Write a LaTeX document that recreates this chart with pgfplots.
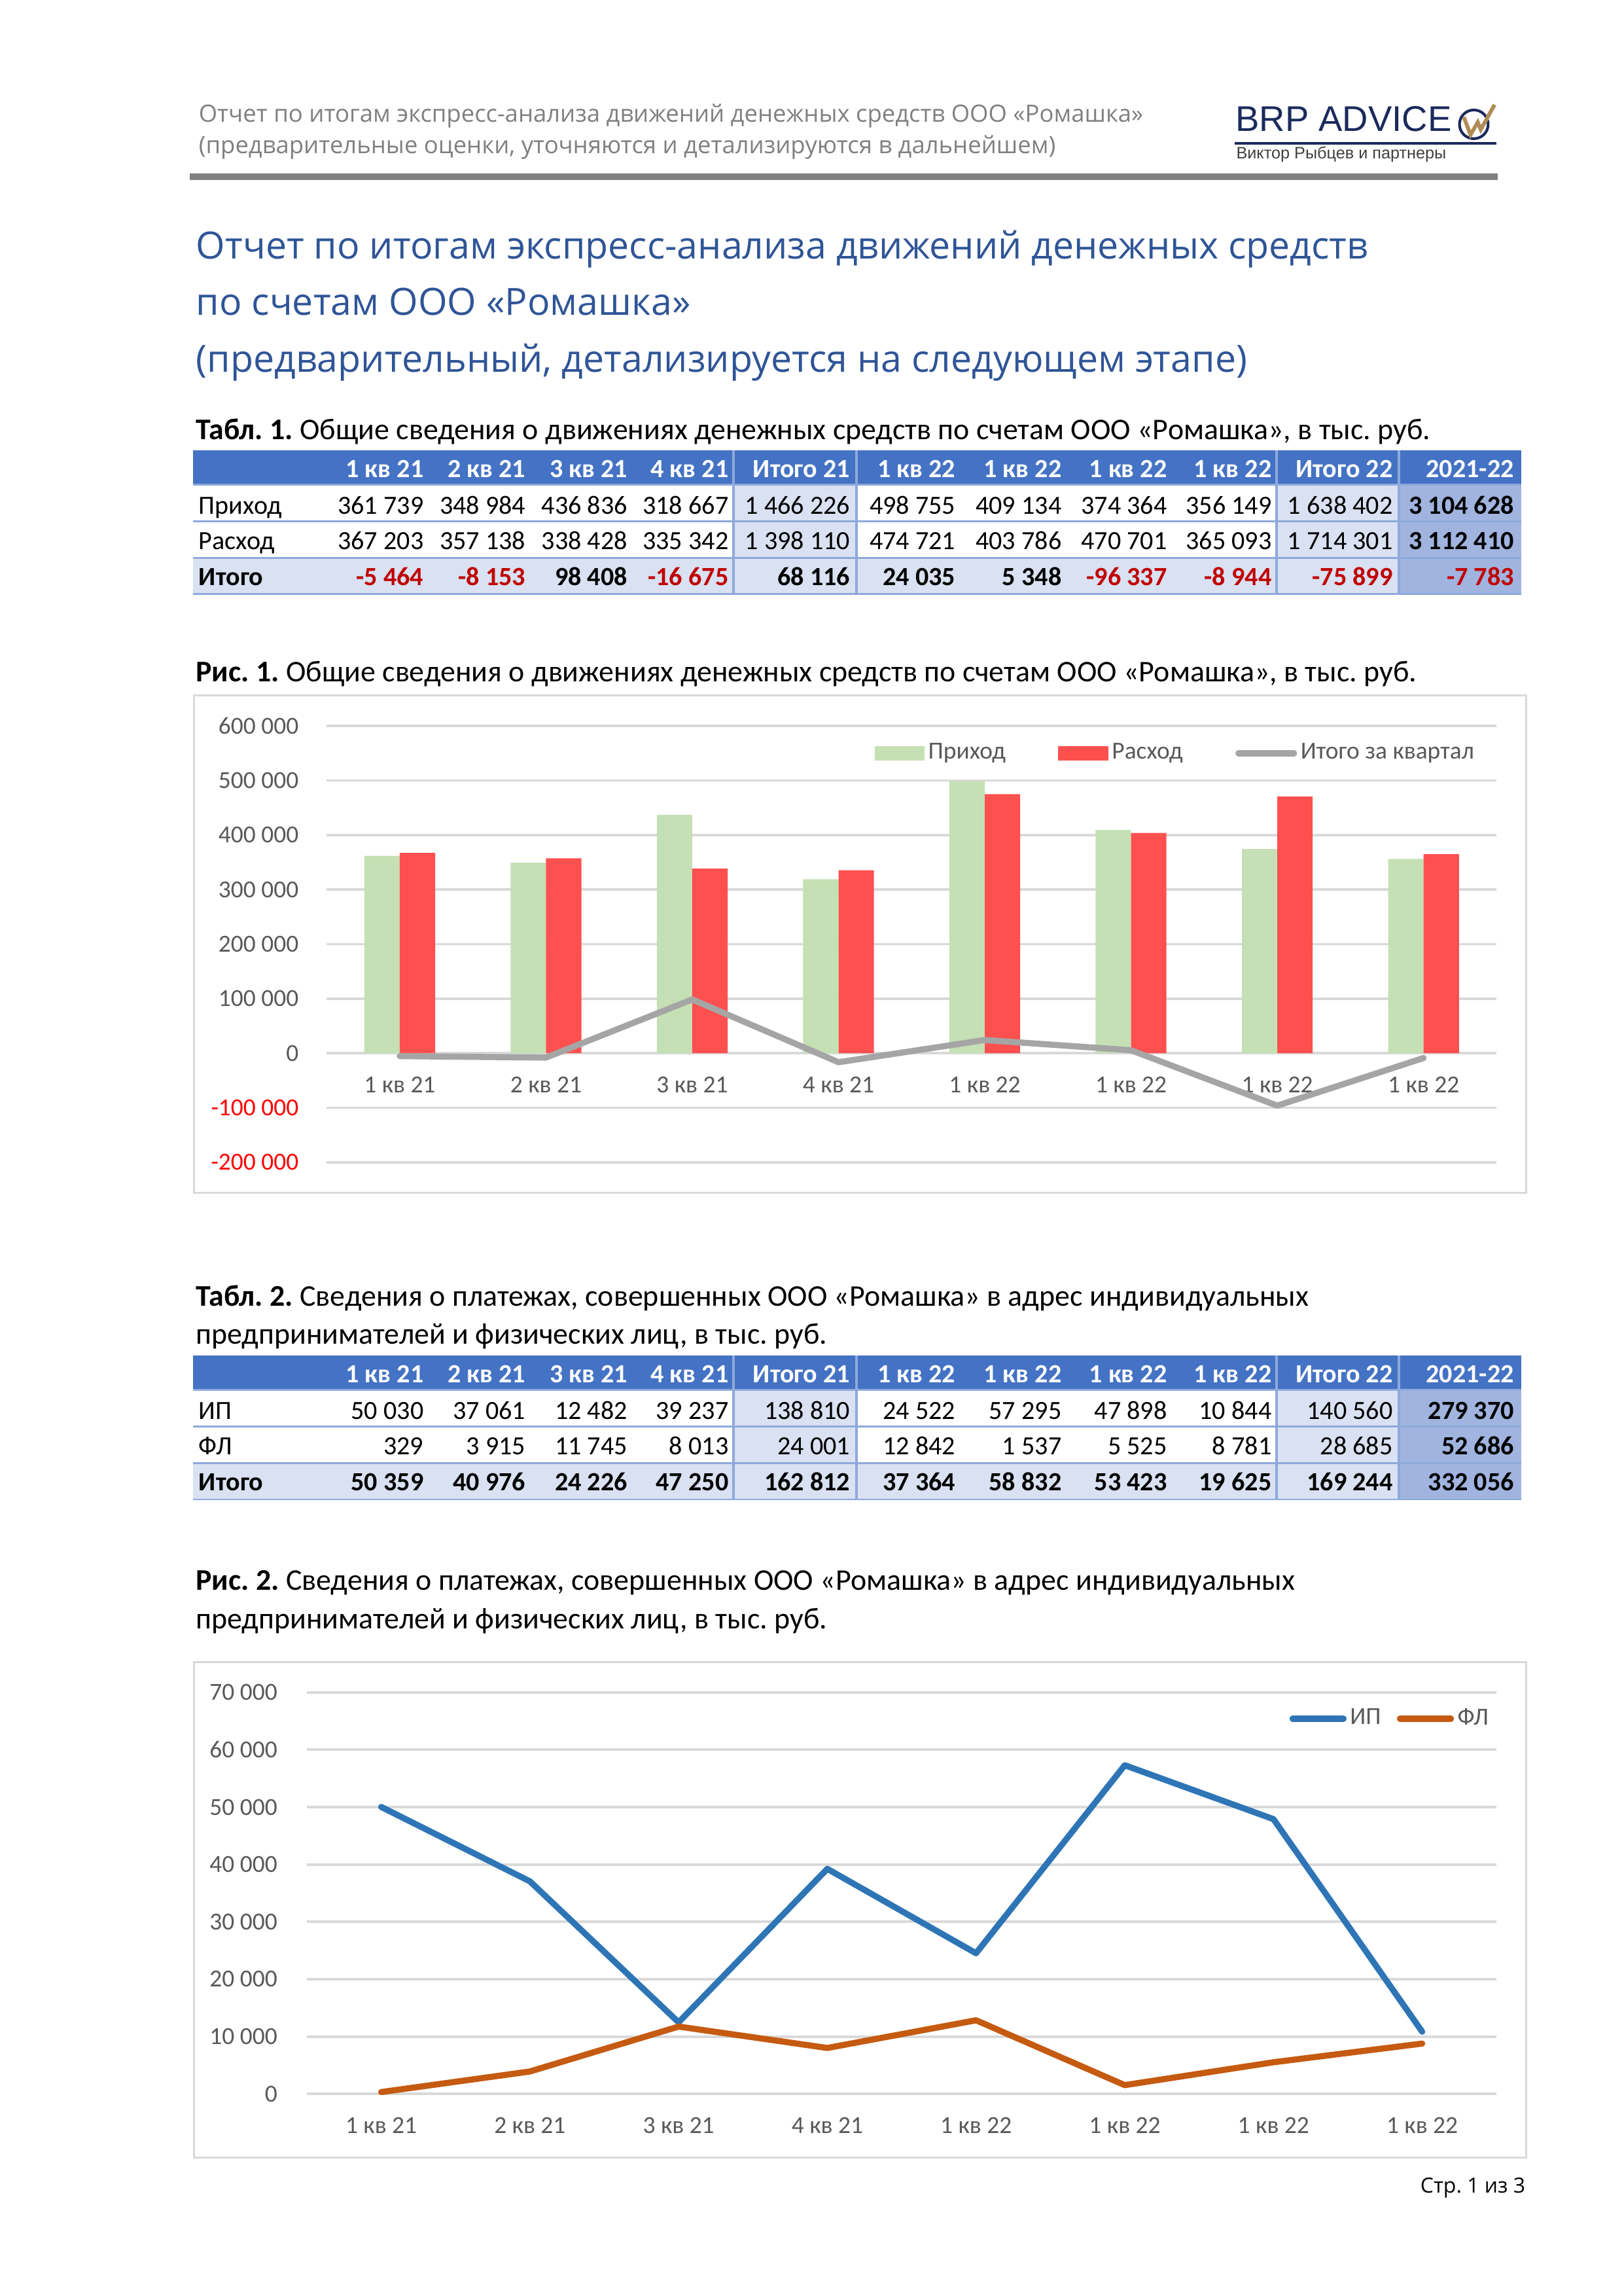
\documentclass[border=0pt]{standalone}
\usepackage{fontspec}
\setmainfont{Carlito}
\newfontfamily\osans{Open Sans}
\newfontfamily\lsans{Liberation Sans}
\usepackage{pgfplots}
\pgfplotsset{compat=1.18}
\frenchspacing

\definecolor{hdrgray}{HTML}{808080}
\definecolor{titblue}{HTML}{2F5597}
\definecolor{navy}{HTML}{1B2A5C}
\definecolor{gold}{HTML}{B08D57}
\definecolor{subgray}{HTML}{404040}
\definecolor{rulegray}{HTML}{808080}
\definecolor{hdrblue}{HTML}{4472C4}
\definecolor{lightblue}{HTML}{D9E1F2}
\definecolor{darkcol}{HTML}{A0B4DF}
\definecolor{sepblue}{HTML}{8EA9DB}
\definecolor{negred}{HTML}{C00000}
\definecolor{gridgray}{HTML}{D9D9D9}
\definecolor{labgray}{HTML}{595959}
\definecolor{incgreen}{HTML}{C5E0B4}
\definecolor{expred}{HTML}{FF5050}
\definecolor{netgray}{HTML}{A5A5A5}
\definecolor{ipblue}{HTML}{2E75B6}
\definecolor{florange}{HTML}{C55A11}
\definecolor{tickred}{HTML}{FF0000}

\newlength\tmpw
\newcommand\calcsize[4]{%
  \settowidth\tmpw{#2\fontsize{10}{12}\selectfont #3}%
  \pgfmathsetmacro#1{10*#4*0.53878/\tmpw}%
}
\newcommand\hdrfont{\osans\fontsize{\hdrsize}{\hdrsize}\selectfont}
\newcommand\titfont{\osans\fontsize{\titsize}{\titsize}\selectfont}
\newcommand\capfont{\rmfamily\fontsize{\capsize}{\capsize}\selectfont}
\newcommand\tabfont{\rmfamily\fontsize{\tabsize}{\tabsize}\selectfont}
\newcommand\chfont{\rmfamily\fontsize{\chsize}{\chsize}\selectfont}
\newcommand\footfont{\osans\fontsize{\footsize}{\footsize}\selectfont}
\newcommand\logofont{\lsans\fontsize{\logosize}{\logosize}\selectfont}
\newcommand\subfont{\lsans\fontsize{\subsize}{\subsize}\selectfont}
\newcommand\R[1]{\textcolor{negred}{#1}}

% table grid, #1 = top y
\newcommand\tgrid[1]{%
  \fill[hdrblue] (132,#1) rectangle (1039,{#1+23.4});
  \fill[lightblue] (501,{#1+23.4}) rectangle (585,{#1+73.4});
  \fill[lightblue] (872,{#1+23.4}) rectangle (955.5,{#1+73.4});
  \fill[lightblue] (132,{#1+73.4}) rectangle (955.5,{#1+98.1});
  \fill[darkcol] (955.5,{#1+23.4}) rectangle (1039,{#1+98.1});
  \foreach \dy in {23.4,48.4,73.4,98.1} {\draw[sepblue, line width=0.6pt] (132,{#1+\dy}) -- (1039,{#1+\dy});}
  \foreach \xx in {501,585,872,955.5} {\draw[sepblue, line width=0.9pt] (\xx,#1) -- (\xx,{#1+98.1});}
}
% table row: #1 baseline, #2 style, #3 label, #4 values
\newcommand\trow[4]{%
  \node[anchor=base west, inner sep=0pt, font=\tabfont] at (135.5,#1) {#2\relax #3};
  \foreach \v [count=\i from 0] in {#4} {%
    \pgfmathsetmacro\xr{{289.7,359.4,429,498,581,653,725.5,797.5,869,951.7,1034.6}[\i]}%
    \node[anchor=base east, inner sep=0pt, font=\tabfont] at (\xr,#1) {#2\relax\v};
  }%
}

\begin{document}%
\calcsize\hdrsize{\osans}{Отчет по итогам экспресс-анализа движений денежных средств ООО «Ромашка»}{645.2}%
\calcsize\titsize{\osans}{Отчет по итогам экспресс-анализа движений денежных средств}{800.5}%
\calcsize\capsize{\rmfamily}{\textbf{Табл. 1.} Общие сведения о движениях денежных средств по счетам ООО «Ромашка», в тыс. руб.}{843.3}%
\calcsize\tabsize{\rmfamily}{1 466 226}{71.7}%
\calcsize\chsize{\rmfamily}{Итого за квартал}{118.5}%
\calcsize\footsize{\osans}{Стр. 1 из 3}{71.6}%
\calcsize\logosize{\lsans}{BRP ADVICE}{147.5}%
\calcsize\subsize{\lsans}{Виктор Рыбцев и партнеры}{143.4}%
\begin{tikzpicture}
\begin{scope}[x=0.18936mm,y=-0.18936mm]
\fill[white] (0,0) rectangle (1109,1568);
% ---- page header
\node[anchor=base west, inner sep=0pt, text=hdrgray, font=\hdrfont] at (135.4,83.3) {Отчет по итогам экспресс-анализа движений денежных средств ООО «Ромашка»};
\node[anchor=base west, inner sep=0pt, text=hdrgray, font=\hdrfont] at (135.4,104.6) {(предварительные оценки, уточняются и детализируются в дальнейшем)};
\node[anchor=base west, inner sep=0pt, text=navy, font=\logofont] at (843.7,89.4) {BRP ADVICE};
\fill[navy] (843.6,96.9) rectangle (1022.3,98.6);
\node[anchor=base west, inner sep=0pt, text=subgray, font=\subfont] at (844.2,108.5) {Виктор Рыбцев и партнеры};
\draw[navy, line width=0.35mm] (1006.8,84.9) circle [radius=9.8];
\draw[gold, line width=0.5mm, line join=miter] (1000,80) -- (1004.5,92) -- (1009.5,83.5) -- (1011.5,88.5) -- (1021,71.5);
\fill[rulegray] (129.6,118.5) rectangle (1023,123);
% ---- title
\node[anchor=base west, inner sep=0pt, text=titblue, font=\titfont] at (133.7,176.6) {Отчет по итогам экспресс-анализа движений денежных средств};
\node[anchor=base west, inner sep=0pt, text=titblue, font=\titfont] at (133.7,215.3) {по счетам ООО «Ромашка»};
\node[anchor=base west, inner sep=0pt, text=titblue, font=\titfont] at (133.7,254) {(предварительный, детализируется на следующем этапе)};
% ---- table 1
\node[anchor=base west, inner sep=0pt, font=\capfont] at (133.5,300.2) {\textbf{Табл. 1.} Общие сведения о движениях денежных средств по счетам ООО «Ромашка», в тыс. руб.};
\tgrid{307.6}
\trow{325.9}{\bfseries\color{white}}{}{1 кв 21, 2 кв 21, 3 кв 21, 4 кв 21, Итого 21, 1 кв 22, 1 кв 22, 1 кв 22, 1 кв 22, Итого 22, 2021-22}
\trow{350.9}{}{Приход}{361 739, 348 984, 436 836, 318 667, 1 466 226, 498 755, 409 134, 374 364, 356 149, 1 638 402, \textbf{3 104 628}}
\trow{375.2}{}{Расход}{367 203, 357 138, 338 428, 335 342, 1 398 110, 474 721, 403 786, 470 701, 365 093, 1 714 301, \textbf{3 112 410}}
\trow{400}{\bfseries}{Итого}{\R{-5 464}, \R{-8 153}, 98 408, \R{-16 675}, 68 116, 24 035, 5 348, \R{-96 337}, \R{-8 944}, \R{-75 899}, \R{-7 783}}
% ---- figure 1 caption and frame
\node[anchor=base west, inner sep=0pt, font=\capfont] at (133.5,465.6) {\textbf{Рис. 1.} Общие сведения о движениях денежных средств по счетам ООО «Ромашка», в тыс. руб.};
\draw[gridgray, line width=0.7pt] (132.5,475) rectangle (1042.5,814.5);
\coordinate (ax1) at (223.1,793.7);
% ---- table 2
\node[anchor=base west, inner sep=0pt, font=\capfont] at (133.5,891.8) {\textbf{Табл. 2.} Сведения о платежах, совершенных ООО «Ромашка» в адрес индивидуальных};
\node[anchor=base west, inner sep=0pt, font=\capfont] at (133.5,917.8) {предпринимателей и физических лиц, в тыс. руб.};
\tgrid{925.8}
\trow{944.1}{\bfseries\color{white}}{}{1 кв 21, 2 кв 21, 3 кв 21, 4 кв 21, Итого 21, 1 кв 22, 1 кв 22, 1 кв 22, 1 кв 22, Итого 22, 2021-22}
\trow{969.1}{}{ИП}{50 030, 37 061, 12 482, 39 237, 138 810, 24 522, 57 295, 47 898, 10 844, 140 560, \textbf{279 370}}
\trow{993.4}{}{ФЛ}{329, 3 915, 11 745, 8 013, 24 001, 12 842, 1 537, 5 525, 8 781, 28 685, \textbf{52 686}}
\trow{1018.2}{\bfseries}{Итого}{50 359, 40 976, 24 226, 47 250, 162 812, 37 364, 58 832, 53 423, 19 625, 169 244, 332 056}
% ---- figure 2 caption and frame
\node[anchor=base west, inner sep=0pt, font=\capfont] at (133.5,1086) {\textbf{Рис. 2.} Сведения о платежах, совершенных ООО «Ромашка» в адрес индивидуальных};
\node[anchor=base west, inner sep=0pt, font=\capfont] at (133.5,1112.5) {предпринимателей и физических лиц, в тыс. руб.};
\draw[gridgray, line width=0.7pt] (132.5,1135) rectangle (1042.5,1473.3);
\coordinate (ax2) at (209.6,1430);
% ---- footer
\node[anchor=base east, inner sep=0pt, font=\footfont] at (1042.3,1497.5) {Стр. 1 из 3};
\end{scope}

% ================= chart 1
\begin{axis}[
  at={(ax1)}, anchor=south west, scale only axis,
  width=151.36mm, height=56.43mm,
  xmin=-0.5, xmax=7.5, ymin=-200000, ymax=600000,
  scaled y ticks=false,
  axis line style={draw=none}, major tick length=0pt, tick style={draw=none},
  ymajorgrids, grid style={gridgray, line width=0.9pt},
  ytick={-200000,-100000,0,100000,200000,300000,400000,500000,600000},
  yticklabels={\textcolor{tickred}{-200 000},\textcolor{tickred}{-100 000},0,100 000,200 000,300 000,400 000,500 000,600 000},
  xtick={0,...,7},
  xticklabels={1 кв 21,2 кв 21,3 кв 21,4 кв 21,1 кв 22,1 кв 22,1 кв 22,1 кв 22},
  ticklabel style={font=\chfont, text=labgray, inner sep=0pt},
  xticklabel style={anchor=center, yshift=9.98mm},
  yticklabel style={anchor=east, xshift=-3.56mm},
  legend style={draw=none, fill=none, inner sep=0pt, at={(0.4678,0.9372)}, anchor=west,
    font=\chfont, text=labgray, column sep=0pt,
    nodes={inner xsep=0.45mm, inner ysep=0pt},
    /tikz/every even column/.append style={column sep=6.35mm}},
  legend columns=-1,
  clip=false,
]
\addplot[ybar, bar width=4.58mm, bar shift=-2.29mm, fill=incgreen, draw=none,
  legend image code/.code={\fill[incgreen] (0mm,-0.91mm) rectangle (6.5mm,0.91mm);}]
  coordinates {(0,361739) (1,348984) (2,436836) (3,318667) (4,498755) (5,409134) (6,374364) (7,356149)};
\addplot[ybar, bar width=4.58mm, bar shift=2.29mm, fill=expred, draw=none,
  legend image code/.code={\fill[expred] (0mm,-0.91mm) rectangle (6.5mm,0.91mm);}]
  coordinates {(0,367203) (1,357138) (2,338428) (3,335342) (4,474721) (5,403786) (6,470701) (7,365093)};
\addplot[netgray, line width=2.25pt, line cap=round, line join=round, mark=none,
  legend image code/.code={\draw[netgray, line width=2.25pt, line cap=round] (0mm,0mm) -- (7.2mm,0mm);}]
  coordinates {(0,-5464) (1,-8153) (2,98408) (3,-16675) (4,24035) (5,5348) (6,-96337) (7,-8944)};
\legend{Приход, Расход, Итого за квартал}
\end{axis}

% ================= chart 2
\begin{axis}[
  at={(ax2)}, anchor=south west, scale only axis,
  width=153.9mm, height=51.94mm,
  xmin=-0.5, xmax=7.5, ymin=0, ymax=70000,
  scaled y ticks=false,
  axis line style={draw=none}, major tick length=0pt, tick style={draw=none},
  ymajorgrids, grid style={gridgray, line width=0.9pt},
  ytick={0,10000,20000,30000,40000,50000,60000,70000},
  yticklabels={0,10 000,20 000,30 000,40 000,50 000,60 000,70 000},
  xtick={0,...,7},
  xticklabels={1 кв 21,2 кв 21,3 кв 21,4 кв 21,1 кв 22,1 кв 22,1 кв 22,1 кв 22},
  ticklabel style={font=\chfont, text=labgray, inner sep=0pt},
  xticklabel style={anchor=center, yshift=-4.07mm},
  yticklabel style={anchor=east, xshift=-3.75mm},
  legend style={draw=none, fill=none, inner sep=0pt, at={(0.8255,0.9344)}, anchor=west,
    font=\chfont, text=labgray, column sep=0pt,
    nodes={inner xsep=0.45mm, inner ysep=0pt},
    /tikz/every even column/.append style={column sep=1.6mm}},
  legend columns=-1,
  clip=false,
]
\addplot[ipblue, line width=2.25pt, line cap=round, line join=round, mark=none,
  legend image code/.code={\draw[ipblue, line width=2.25pt, line cap=round] (0mm,0mm) -- (6.6mm,0mm);}]
  coordinates {(0,50030) (1,37061) (2,12482) (3,39237) (4,24522) (5,57295) (6,47898) (7,10844)};
\addplot[florange, line width=2.25pt, line cap=round, line join=round, mark=none,
  legend image code/.code={\draw[florange, line width=2.25pt, line cap=round] (0mm,0mm) -- (6.6mm,0mm);}]
  coordinates {(0,329) (1,3915) (2,11745) (3,8013) (4,12842) (5,1537) (6,5525) (7,8781)};
\legend{ИП, ФЛ}
\end{axis}
\end{tikzpicture}
\end{document}
